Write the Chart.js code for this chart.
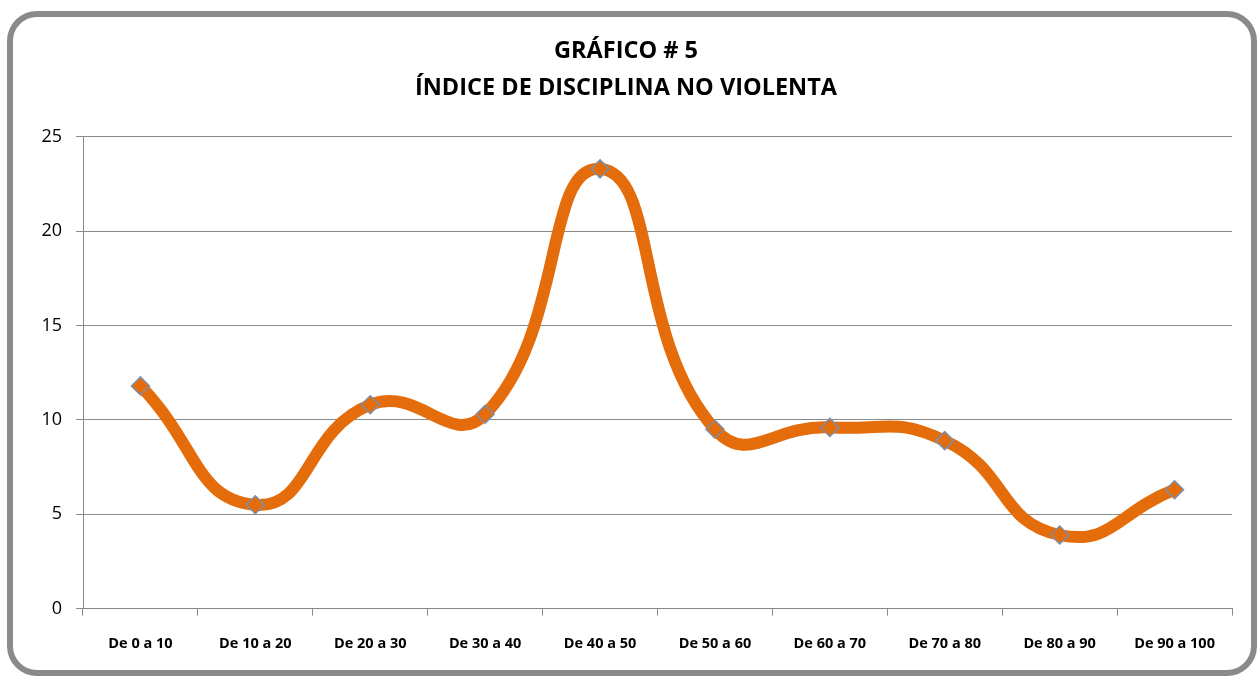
<!DOCTYPE html>
<html>
<head>
<meta charset="utf-8">
<script src="https://cdn.jsdelivr.net/npm/chart.js@4"></script>
<style>
  html, body { margin: 0; padding: 0; background: #fff; }
  #frame {
    position: absolute; left: 7px; top: 11px; width: 1250px; height: 665px;
    box-sizing: border-box; border: 6px solid #8a8a8a; border-radius: 30px;
  }
  #chart { position: absolute; left: 0; top: 0; width: 1260px; height: 680px; }
</style>
</head>
<body>
<div id="frame"></div>
<div id="chart"><canvas width="1260" height="680"></canvas></div>
<script>
const chart = document.querySelector("#chart canvas");

const categories = ["De 0 a 10", "De 10 a 20", "De 20 a 30", "De 30 a 40", "De 40 a 50",
  "De 50 a 60", "De 60 a 70", "De 70 a 80", "De 80 a 90", "De 90 a 100"];
const values = [11.8, 5.5, 10.8, 10.3, 23.3, 9.5, 9.6, 8.9, 3.9, 6.3];
const titleLines = ["GRÁFICO # 5", "ÍNDICE DE DISCIPLINA NO VIOLENTA"];

new Chart(chart, {
  type: "line",
  data: {
    labels: categories,
    datasets: [{
      data: values,
      borderColor: "#E46C0A",
      borderWidth: 12,
      tension: 0.5,
      pointStyle: "rectRot",
      pointRadius: 9,
      pointHoverRadius: 9,
      pointBackgroundColor: "#E46C0A",
      pointBorderColor: "#7d8fab",
      pointBorderWidth: 1.5,
    }],
  },
  options: {
    responsive: false,
    animation: false,
    layout: { padding: { left: 20, right: 28, top: 13, bottom: 7 } },
    plugins: {
      legend: { display: false },
      tooltip: { enabled: false },
      title: {
        display: true,
        text: titleLines,
        color: "#000",
        font: { family: "Open Sans", size: 23.5, weight: "bold", lineHeight: 1.57 },
        padding: { top: 20, bottom: 30 },
      },
    },
    scales: {
      x: {
        offset: true,
        grid: { display: true, offset: true, drawOnChartArea: false, color: "#8a8a8a", tickLength: 7 },
        border: { color: "#8a8a8a" },
        ticks: { color: "#000", padding: 20, maxRotation: 0, autoSkip: false, font: { family: "Open Sans", size: 14.5, weight: "bold" } },
      },
      y: {
        min: 0,
        max: 25,
        afterFit: (scale) => { scale.width = 63; },
        grid: { color: "#8a8a8a", tickLength: 7 },
        border: { color: "#8a8a8a" },
        ticks: { stepSize: 5, color: "#000", padding: 14, font: { family: "Open Sans", size: 18 } },
      },
    },
  },
});
</script>
</body>
</html>
